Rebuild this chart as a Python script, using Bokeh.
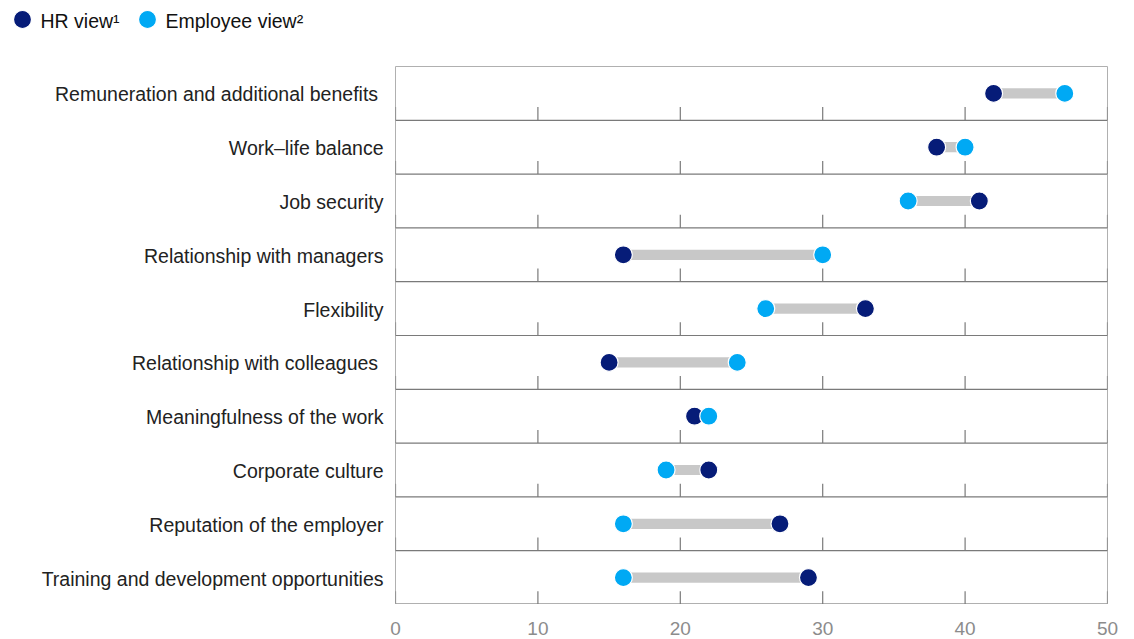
from bokeh.plotting import figure
from bokeh.models import Range1d, FixedTicker, ColumnDataSource
from bokeh.layouts import column
from bokeh.core.properties import value
from bokeh.embed import file_html
from bokeh.resources import INLINE

categories = [
    "Remuneration and additional benefits\u00a0",
    "Work\u2013life balance",
    "Job security",
    "Relationship with managers",
    "Flexibility",
    "Relationship with colleagues\u00a0",
    "Meaningfulness of the work",
    "Corporate culture",
    "Reputation of the employer",
    "Training and development opportunities",
]
hr_view = [42, 38, 41, 16, 33, 15, 21, 22, 27, 29]
employee_view = [47, 40, 36, 30, 26, 24, 22, 19, 16, 16]
x_ticks = [0, 10, 20, 30, 40, 50]
x_tick_labels = ["0", "10", "20", "30", "40", "50"]
series_names = ["HR view\u00b9", "Employee view\u00b2"]

NAVY = "#061c78"
CYAN = "#00a9f4"
FONT = "Liberation Sans"

W = 1134
LEFT, RIGHT = 395, 27
XMIN, XMAX = 0, 50

# ---------- legend strip ----------
leg = figure(width=W, height=40, output_backend="svg", toolbar_location=None,
             x_range=Range1d(0, W), y_range=Range1d(40, 0),
             min_border=0, x_axis_location=None, y_axis_location=None)
leg.frame_align = False
leg.outline_line_color = None
leg.xgrid.visible = False
leg.ygrid.visible = False
leg_x = [22, 147]
leg.scatter(x=leg_x, y=[19, 19], size=18, fill_color=[NAVY, CYAN], line_color="white", line_width=1.2)
leg.text(x=[x + 18 for x in leg_x], y=[20, 20], text=series_names,
         text_font=value(FONT), text_font_size="19.5px", text_color="#111111",
         text_baseline="middle", text_align="left")

# ---------- main chart ----------
n = len(categories)
ypos = [n - 1 - i for i in range(n)]
label_pos = [y - 0.02 for y in ypos]

p = figure(width=W, height=564, output_backend="svg", toolbar_location=None,
           x_range=Range1d(XMIN, XMAX), y_range=Range1d(-0.5, n - 0.5),
           x_axis_location=None,
           min_border_left=LEFT, min_border_right=RIGHT, min_border_top=26, min_border_bottom=0)
p.frame_align = False
p.background_fill_color = "white"
p.border_fill_color = "white"
p.outline_line_color = "#b0b0b0"
p.outline_line_width = 1
p.xgrid.visible = False
p.ygrid.visible = False

row_bottoms = [k - 0.5 for k in range(n)]
p.segment(x0=[XMIN] * n, x1=[XMAX] * n, y0=row_bottoms, y1=row_bottoms, line_color="#7a7a7a", line_width=1.2)
tx, ty0, ty1 = [], [], []
for b in row_bottoms:
    for t in x_ticks:
        tx.append(t)
        ty0.append(b)
        ty1.append(b + 0.245)
p.segment(x0=tx, x1=tx, y0=ty0, y1=ty1, line_color="#7a7a7a", line_width=1.2)

src = ColumnDataSource(dict(y=ypos, hr=hr_view, emp=employee_view,
                            lo=[min(a, b) for a, b in zip(hr_view, employee_view)],
                            hi=[max(a, b) for a, b in zip(hr_view, employee_view)]))
p.hbar(y="y", left="lo", right="hi", height=0.19, source=src, fill_color="#c8c8c8", line_color=None)
p.scatter(x="hr", y="y", source=src, size=18, fill_color=NAVY, line_color="white", line_width=1.2)
p.scatter(x="emp", y="y", source=src, size=18, fill_color=CYAN, line_color="white", line_width=1.2)

p.yaxis.ticker = FixedTicker(ticks=label_pos)
p.yaxis.major_label_overrides = {y: c for y, c in zip(label_pos, categories)}
p.yaxis.axis_line_color = None
p.yaxis.major_tick_line_color = None
p.yaxis.minor_tick_line_color = None
p.yaxis.major_tick_out = 0
p.yaxis.major_tick_in = 0
p.yaxis.major_label_standoff = 12
p.yaxis.major_label_text_font = FONT
p.yaxis.major_label_text_font_size = "19.5px"
p.yaxis.major_label_text_color = "#222222"

# ---------- x tick-label strip (same horizontal scale as the chart) ----------
upp = (XMAX - XMIN) / (W - LEFT - RIGHT)
xs = figure(width=W, height=35, output_backend="svg", toolbar_location=None,
            x_range=Range1d(XMIN - LEFT * upp, XMAX + RIGHT * upp), y_range=Range1d(35, 0),
            min_border=0, x_axis_location=None, y_axis_location=None)
xs.frame_align = False
xs.outline_line_color = None
xs.xgrid.visible = False
xs.ygrid.visible = False
xs.text(x=x_ticks, y=[24] * len(x_ticks), text=x_tick_labels,
        text_font=value(FONT), text_font_size="19px", text_color="#8c8c8c",
        text_baseline="middle", text_align="center")

layout = column(leg, p, xs, spacing=0)
open("out.html", "w").write(file_html(layout, INLINE))
